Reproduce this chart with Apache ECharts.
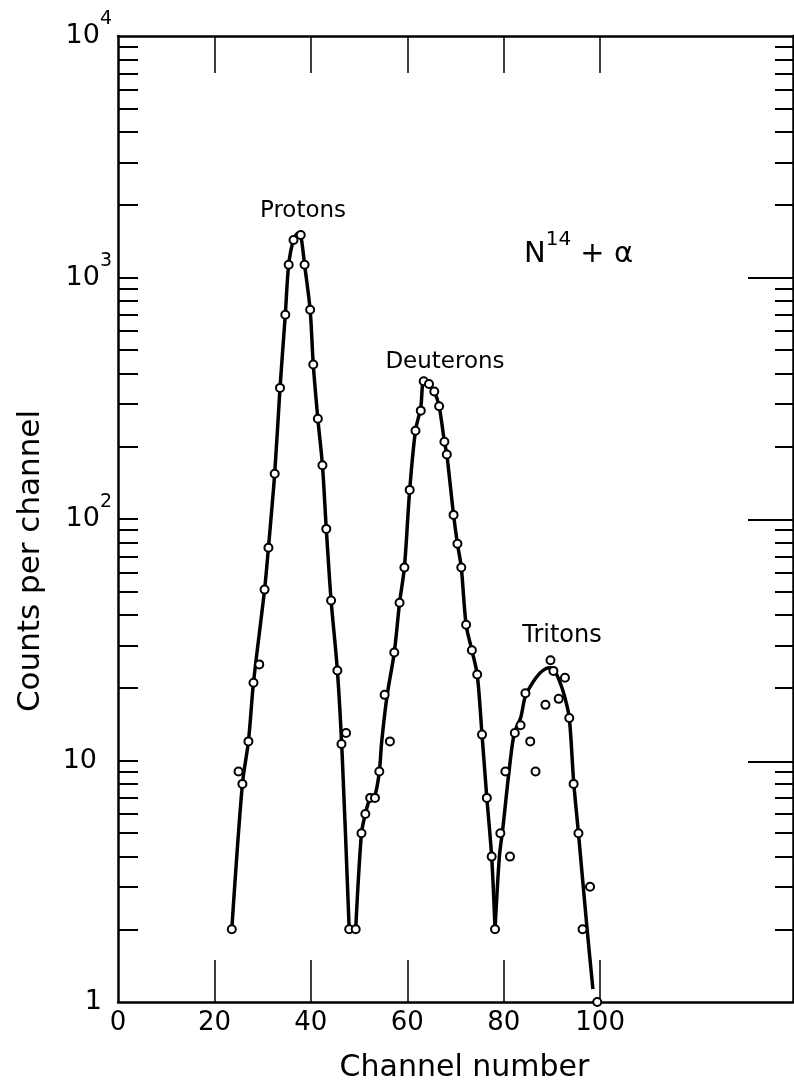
<!DOCTYPE html>
<html>
<head>
<meta charset="utf-8">
<script src="https://cdn.jsdelivr.net/npm/echarts@6/dist/echarts.min.js"></script>
<style>html,body{margin:0;padding:0;background:#fff}#c{width:794px;height:1088px}</style>
</head>
<body>
<div id="c"></div>
<script>
// ---- tick labels ----
const xTickLabels = [0, 20, 40, 60, 80, 100];
const xTickMarks = [20, 40, 60, 80, 100];
const yTickLabels = [1, 10, 100, 1000, 10000];
const yMajorInner = [10, 100, 1000];
const yMinorTicks = [];
[1, 10, 100, 1000].forEach(d => { for (let k = 2; k <= 9; k++) yMinorTicks.push(k * d); });

// ---- measured points (channel, counts) ----
const protonX = [23.6, 25.0, 25.8, 27.05, 28.1, 29.3, 30.4, 31.2, 32.5, 33.6, 34.7, 35.4, 36.4, 37.9, 38.7, 39.85, 40.5, 41.45, 42.4, 43.2, 44.2, 45.5, 46.35, 47.3, 47.95, 49.3];
const protonY = [2, 9, 8, 12, 21, 25, 51, 76, 154, 349, 701, 1130, 1430, 1500, 1130, 735, 436, 260, 167, 91, 46, 23.6, 11.7, 13, 2, 2];
const deuteronX = [50.5, 51.3, 52.3, 53.3, 54.2, 55.3, 56.4, 57.3, 58.4, 59.4, 60.5, 61.7, 62.8, 63.4, 64.5, 65.6, 66.6, 67.7, 68.2, 69.6, 70.4, 71.2, 72.2, 73.4, 74.5, 75.5, 76.5, 77.5, 78.2];
const deuteronY = [5, 6, 7, 7, 9, 18.7, 12, 28, 45, 63, 132, 232, 281, 372, 362, 337, 293, 209, 185, 104, 79, 63, 36.5, 28.6, 22.7, 12.8, 7, 4, 2];
const tritonX = [79.3, 80.35, 81.3, 82.3, 83.5, 84.5, 85.5, 86.6, 88.65, 89.7, 90.3, 91.4, 92.7, 93.6, 94.5, 95.5, 96.35, 97.9, 99.4];
const tritonY = [5, 9, 4, 13, 14, 19, 12, 9, 17, 26, 23.5, 18, 22, 15, 8, 5, 2, 3, 1];

// ---- drawn fit curves ----
const protonFitX = [23.6, 25.8, 27.05, 28.1, 30.4, 31.2, 32.5, 33.6, 34.7, 35.4, 36.4, 37.4, 37.9, 38.7, 39.85, 40.5, 41.45, 42.4, 43.2, 44.2, 45.5, 46.5, 47.95];
const protonFitY = [2, 8, 12, 21, 51, 76, 154, 349, 701, 1130, 1430, 1530, 1500, 1129, 735, 436, 260, 167, 91, 46, 23.6, 10.5, 2];
const deuteronFitX = [49.3, 50.5, 51.3, 52.3, 53.3, 54.2, 54.7, 55.8, 57.3, 58.4, 59.4, 60.5, 61.7, 62.8, 63.4, 64.5, 65.6, 66.6, 67.7, 68.2, 69.6, 70.4, 71.2, 72.2, 73.4, 74.5, 75.5, 76.5, 77.5, 78.2];
const deuteronFitY = [2, 5, 6, 7, 7.2, 9, 12, 18.5, 28, 45, 63, 132, 232, 290, 370, 362, 337, 293, 209, 185, 104, 79, 63, 36.5, 28.6, 22.7, 12.8, 7, 4, 2];
const tritonFitX = [78.2, 79.1, 79.8, 81.1, 82.2, 83.5, 84.5, 86.0, 87.5, 88.7, 89.6, 90.5, 91.5, 92.6, 93.6, 94.5, 95.5, 97.3, 98.5];
const tritonFitY = [2, 4, 5.2, 9, 13, 15, 18.5, 21, 23, 24, 24.2, 23.6, 21.5, 18.5, 15, 8.2, 5, 2, 1.13];

const zip = (xs, ys) => xs.map((x, i) => [x, ys[i]]);
const FONT = 'DejaVu Sans';

const chart = echarts.init(document.getElementById('c'), null, {renderer: 'canvas'});

const frameLine = {show: true, onZero: false, lineStyle: {color: '#000', width: 2.5}};

const lineSeries = (name, xs, ys) => ({
  name: name, type: 'line', data: zip(xs, ys), smooth: 0.3, showSymbol: false,
  lineStyle: {color: '#000', width: 3.5}, z: 2, silent: true
});
const pointSeries = (name, xs, ys) => ({
  name: name, type: 'scatter', data: zip(xs, ys), symbol: 'circle', symbolSize: 8,
  itemStyle: {color: '#fff', borderColor: '#000', borderWidth: 2, opacity: 1}, z: 5, clip: false
});

chart.setOption({
  animation: false,
  backgroundColor: '#fff',
  grid: [
    {left: 118, right: 1, top: 36, bottom: 85, containLabel: false},
    {left: 118, right: 1, top: 36, bottom: 85, containLabel: false}
  ],
  xAxis: [
    {
      gridIndex: 0, type: 'value', min: 0, max: 140, position: 'bottom',
      axisLine: frameLine,
      axisTick: {show: true, inside: true, length: 42, customValues: xTickMarks, lineStyle: {color: '#000', width: 1.5}},
      axisLabel: {customValues: xTickLabels, fontSize: 26, fontFamily: FONT, color: '#000', margin: 8},
      splitLine: {show: false},
      name: 'Channel number', nameLocation: 'middle', nameGap: 51,
      nameTextStyle: {fontSize: 30, fontFamily: FONT, color: '#000', padding: [0, 0, 0, 18]}
    },
    {
      gridIndex: 0, type: 'value', min: 0, max: 140, position: 'top',
      axisLine: frameLine,
      axisTick: {show: true, inside: true, length: 37, customValues: xTickMarks, lineStyle: {color: '#000', width: 1.5}},
      axisLabel: {show: false}, splitLine: {show: false}
    },
    {
      gridIndex: 1, type: 'value', min: 0, max: 140, show: false
    }
  ],
  yAxis: [
    {
      gridIndex: 0, type: 'log', logBase: 10, min: 1, max: 10000, position: 'left',
      axisLine: frameLine,
      axisTick: {show: true, inside: true, length: 20, customValues: yMinorTicks.concat(yMajorInner), lineStyle: {color: '#000', width: 2}},
      axisLabel: {
        customValues: yTickLabels, margin: 6, color: '#000', fontFamily: FONT,
        formatter: function (v) {
          const e = Math.round(Math.log10(v));
          if (e === 0) return '{one|1}';
          if (e === 1) return '{bp|10}';
          return '{b|10}{s|' + e + '}';
        },
        rich: {
          b: {fontSize: 27, fontFamily: FONT, lineHeight: 52, color: '#000'},
          bp: {fontSize: 27, fontFamily: FONT, lineHeight: 52, color: '#000', padding: [0, 15, 0, 0]},
          one: {fontSize: 27, fontFamily: FONT, lineHeight: 52, color: '#000', padding: [0, 10, 0, 0]},
          s: {fontSize: 19, fontFamily: FONT, lineHeight: 16, verticalAlign: 'top', color: '#000'}
        }
      },
      splitLine: {show: false},
      name: 'Counts per channel', nameLocation: 'middle', nameGap: 72,
      nameTextStyle: {fontSize: 31, fontFamily: FONT, color: '#000', padding: [0, 84, 0, 0]}
    },
    {
      gridIndex: 0, type: 'log', logBase: 10, min: 1, max: 10000, position: 'right',
      axisLine: frameLine,
      axisTick: {show: true, inside: true, length: 18, customValues: yMinorTicks, lineStyle: {color: '#000', width: 2}},
      axisLabel: {show: false}, splitLine: {show: false}
    },
    {
      gridIndex: 1, type: 'log', logBase: 10, min: 1, max: 10000, position: 'right',
      axisLine: {show: false, onZero: false},
      axisTick: {show: true, inside: true, length: 45, customValues: yMajorInner, lineStyle: {color: '#000', width: 2}},
      axisLabel: {show: false}, splitLine: {show: false}
    }
  ],
  series: [
    lineSeries('Protons fit', protonFitX, protonFitY),
    lineSeries('Deuterons fit', deuteronFitX, deuteronFitY),
    lineSeries('Tritons fit', tritonFitX, tritonFitY),
    pointSeries('Protons', protonX, protonY),
    pointSeries('Deuterons', deuteronX, deuteronY),
    pointSeries('Tritons', tritonX, tritonY)
  ],
  graphic: [
    {type: 'text', x: 303, y: 211, style: {text: 'Protons', fontSize: 23, fontFamily: FONT, fill: '#000', align: 'center', verticalAlign: 'middle'}},
    {type: 'text', x: 445, y: 362, style: {text: 'Deuterons', fontSize: 23, fontFamily: FONT, fill: '#000', align: 'center', verticalAlign: 'middle'}},
    {type: 'text', x: 562, y: 636, style: {text: 'Tritons', fontSize: 24, fontFamily: FONT, fill: '#000', align: 'center', verticalAlign: 'middle'}},
    {type: 'text', x: 524, y: 254, style: {
      text: '{n|N}{s|14}{n| + α}', align: 'left', verticalAlign: 'middle',
      rich: {
        n: {fontSize: 29, fontFamily: FONT, fill: '#000', lineHeight: 48},
        s: {fontSize: 20, fontFamily: FONT, fill: '#000', lineHeight: 20, verticalAlign: 'top'}
      }
    }}
  ]
});
</script>
</body>
</html>
